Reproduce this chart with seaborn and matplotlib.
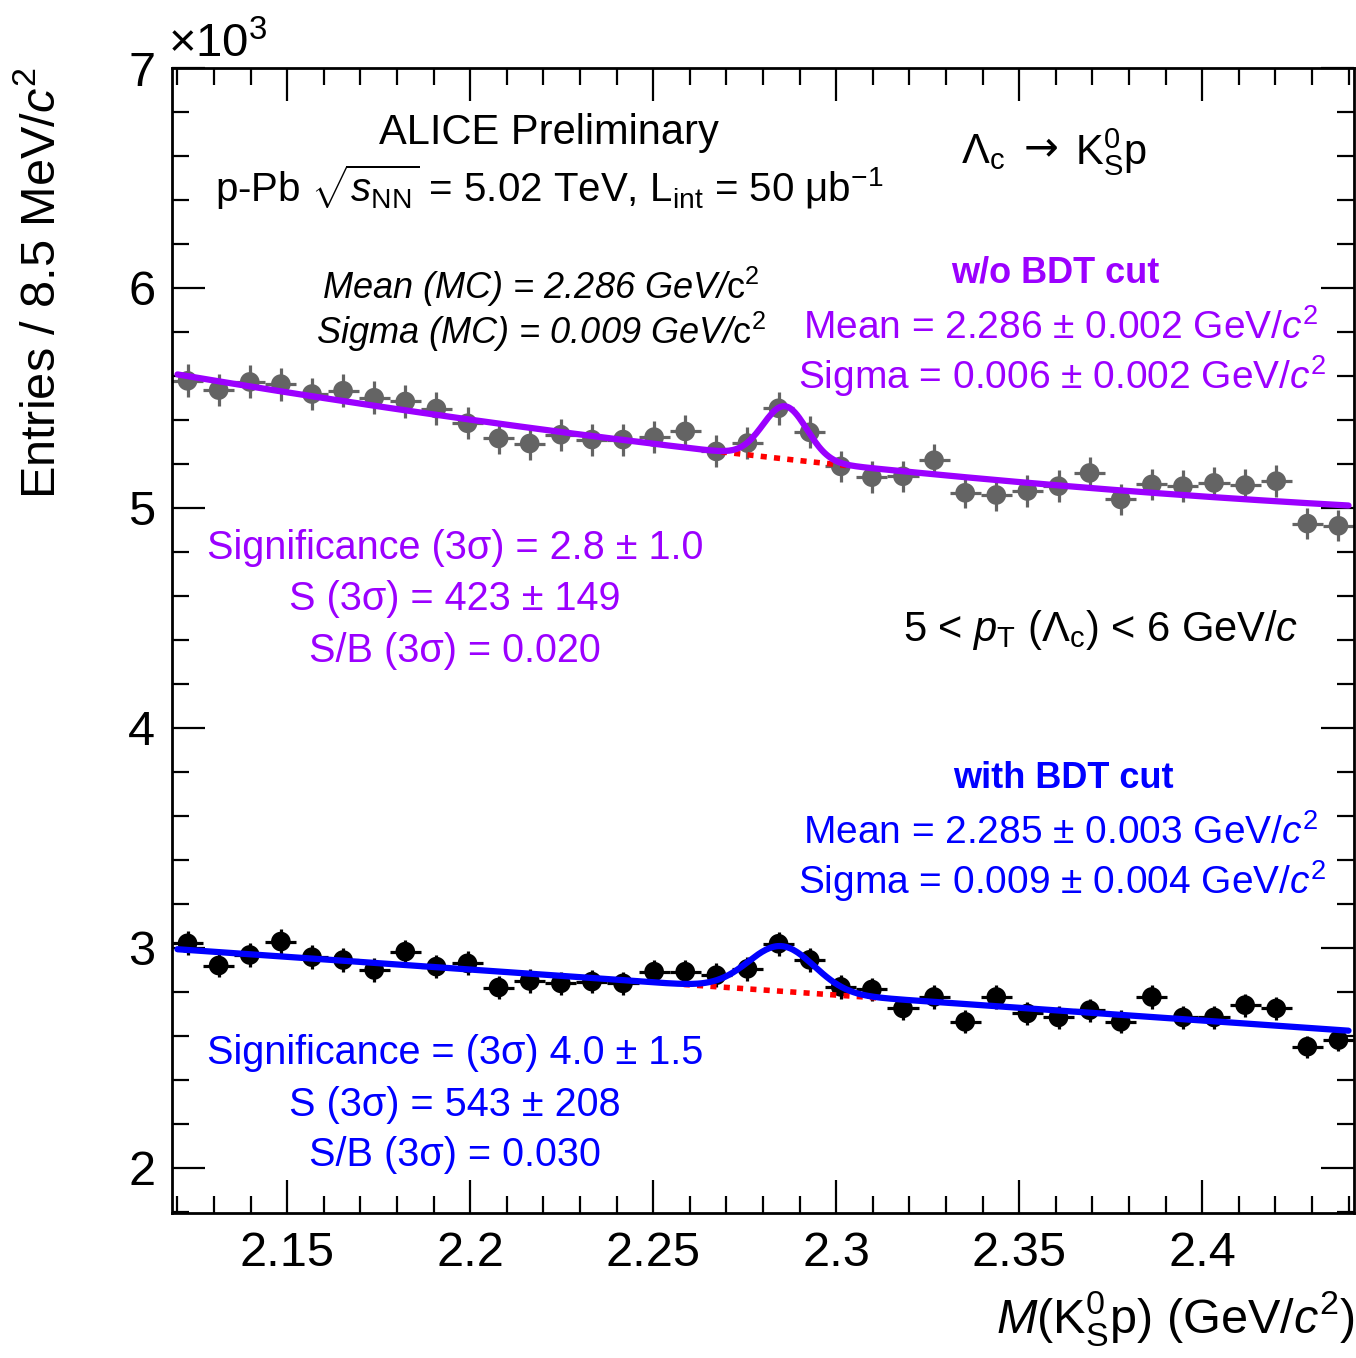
import math
import numpy as np
import pandas as pd
import matplotlib
matplotlib.use("Agg")
import matplotlib.pyplot as plt
from matplotlib.ticker import MultipleLocator, FixedLocator, FixedFormatter
import seaborn as sns

# ---- histogram binning of M(K0S p) in GeV/c^2 ----
mass_min = 2.1185
bin_width = 0.0085
n_bins = 38

# candidates per bin, without the BDT selection
counts_no_bdt = [5578, 5536, 5573, 5563, 5518, 5533, 5501, 5484, 5452, 5385,
                 5316, 5293, 5333, 5311, 5311, 5322, 5348, 5257, 5295, 5453,
                 5344, 5189, 5140, 5144, 5217, 5069, 5059, 5077, 5099, 5159,
                 5039, 5107, 5099, 5114, 5104, 5122, 4929, 4919]
# candidates per bin, with the BDT selection
counts_bdt = [3021, 2920, 2968, 3029, 2958, 2945, 2900, 2983, 2915, 2930,
              2820, 2850, 2839, 2847, 2839, 2892, 2892, 2876, 2905, 3019,
              2946, 2823, 2811, 2725, 2777, 2664, 2777, 2702, 2684, 2717,
              2664, 2777, 2684, 2684, 2740, 2725, 2551, 2581]

# fit results: polynomial background in (M - 2.12) plus a Gaussian peak
fit_range = (2.12, 2.44)
bkg_ref = 2.12
bkg_no_bdt = [5607.0, -2804.0, 2944.0]
bkg_bdt = [2994.0, -1157.0, 0.0]
mean_no_bdt, sigma_no_bdt, signal_no_bdt = 2.286, 0.006, 423.0
mean_bdt, sigma_bdt, signal_bdt = 2.285, 0.009, 543.0

x_ticks = [2.15, 2.20, 2.25, 2.30, 2.35, 2.40]
x_tick_labels = ["2.15", "2.2", "2.25", "2.3", "2.35", "2.4"]
y_ticks = [2, 3, 4, 5, 6, 7]
y_tick_labels = ["2", "3", "4", "5", "6", "7"]

PURPLE = "#9B00FF"
BLUE = "#0000FF"
RED = "#FF0000"
GREY = "#646464"

sns.set_theme(style="ticks")
plt.rcParams["font.family"] = ["Liberation Sans", "DejaVu Sans"]
plt.rcParams["text.color"] = "black"
plt.rcParams["mathtext.fontset"] = "custom"
plt.rcParams["mathtext.rm"] = "Liberation Sans"
plt.rcParams["mathtext.it"] = "Liberation Sans:italic"
plt.rcParams["mathtext.bf"] = "Liberation Sans:bold"

W, H = 1356, 1358
fig = plt.figure(figsize=(W / 100, H / 100), dpi=100)
ax = fig.add_axes([172 / W, 1 - 1213 / H, (1354 - 172) / W, (1213 - 68) / H])


def px(x, y):
    return x / W, 1 - y / H


centers = mass_min + (np.arange(n_bins) + 0.5) * bin_width
mass_max = mass_min + n_bins * bin_width


def model(x, bkg, mean, sigma, signal):
    u = x - bkg_ref
    b = bkg[0] + bkg[1] * u + bkg[2] * u ** 2
    amp = signal / math.erf(3 / math.sqrt(2)) * bin_width / (sigma * math.sqrt(2 * math.pi))
    return b + amp * np.exp(-0.5 * ((x - mean) / sigma) ** 2), b


xf = np.linspace(fit_range[0], fit_range[1], 600)

for counts, bkg, mean, sigma, signal, mcol, lcol in [
        (counts_no_bdt, bkg_no_bdt, mean_no_bdt, sigma_no_bdt, signal_no_bdt, GREY, PURPLE),
        (counts_bdt, bkg_bdt, mean_bdt, sigma_bdt, signal_bdt, "black", BLUE)]:
    y = np.array(counts, float)
    df = pd.DataFrame({"m": centers, "n": y / 1000.0})
    ax.errorbar(centers, y / 1000.0, yerr=np.sqrt(y) / 1000.0, xerr=bin_width / 2,
                fmt="none", ecolor=mcol, elinewidth=2.3, capsize=0, zorder=2)
    sns.scatterplot(data=df, x="m", y="n", ax=ax, color=mcol, s=200,
                    edgecolor="none", zorder=3, legend=False)
    total, b = model(xf, bkg, mean, sigma, signal)
    win = (xf >= mean - 3 * sigma) & (xf <= mean + 3 * sigma)
    ax.plot(xf[win], b[win] / 1000.0, color=RED, lw=4, ls=(0, (1.1, 1.3)),
            zorder=4, solid_capstyle="butt")
    sns.lineplot(x=xf, y=total / 1000.0, ax=ax, color=lcol, lw=4.5, zorder=5,
                 sort=False, estimator=None)

ax.set_xlim(mass_min, mass_max)
ax.set_ylim(1.795, 7.0)
ax.xaxis.set_major_locator(FixedLocator(x_ticks))
ax.xaxis.set_major_formatter(FixedFormatter(x_tick_labels))
ax.xaxis.set_minor_locator(MultipleLocator(0.01))
ax.yaxis.set_major_locator(FixedLocator(y_ticks))
ax.yaxis.set_major_formatter(FixedFormatter(y_tick_labels))
ax.yaxis.set_minor_locator(MultipleLocator(0.2))
ax.tick_params(which="both", direction="in", top=True, right=True,
               color="black", width=1.6, labelsize=35, labelcolor="black")
ax.tick_params(which="major", length=24)
ax.tick_params(which="minor", length=12)
ax.tick_params(axis="x", which="major", pad=13)
ax.tick_params(axis="y", which="major", pad=12)
for s in ax.spines.values():
    s.set_linewidth(2.0)
    s.set_color("black")
ax.set_xlabel("")
ax.set_ylabel("")
ax.set_facecolor("white")

# axis titles
fig.text(*px(1355, 1318), r"$M(\mathrm{K}^{0}_{\mathrm{S}}\mathrm{p})$ (GeV/$c^{2}$)",
         ha="right", va="center", fontsize=35)
fig.text(*px(42, 283), r"Entries / 8.5 MeV/$c^{2}$", rotation=90,
         ha="center", va="center", fontsize=35)
fig.text(*px(168, 45), r"$\times$10$^{3}$", ha="left", va="center", fontsize=34)

# header
fig.text(*px(549, 133), "ALICE Preliminary", ha="center", va="center", fontsize=30)
fig.text(*px(549, 187),
         r"p-Pb $\sqrt{s_{\mathrm{NN}}}$ = 5.02 TeV, L$_{\mathrm{int}}$ = 50 $\mathrm{\mu}$b$^{-1}$",
         ha="center", va="center", fontsize=29)
fig.text(*px(983, 152), r"$\Lambda_{\mathrm{c}}$", ha="center", va="center", fontsize=30)
fig.text(*px(1041, 148), "→", ha="center", va="center", fontsize=30,
         family=["DejaVu Sans"])
fig.text(*px(1111, 152), r"$\mathrm{K}^{0}_{\mathrm{S}}\mathrm{p}$", ha="center",
         va="center", fontsize=30)
fig.text(*px(541, 287), r"Mean (MC) = 2.286 GeV/$\mathrm{c}^{2}$", ha="center",
         va="center", fontsize=26, style="italic")
fig.text(*px(541, 332), r"Sigma (MC) = 0.009 GeV/$\mathrm{c}^{2}$", ha="center",
         va="center", fontsize=26, style="italic")
fig.text(*px(1101, 630), r"5 < $p_{\mathrm{T}}$ ($\Lambda_{\mathrm{c}}$) < 6 GeV/$c$",
         ha="center", va="center", fontsize=30)

# fit summaries
fig.text(*px(1055, 273), "w/o BDT cut", ha="center", va="center", fontsize=26,
         weight="bold", color=PURPLE)
fig.text(*px(1061, 328), r"Mean = 2.286 ± 0.002 GeV/$c^{2}$", ha="center",
         va="center", fontsize=28, color=PURPLE)
fig.text(*px(1062, 376), r"Sigma = 0.006 ± 0.002 GeV/$c^{2}$", ha="center",
         va="center", fontsize=28, color=PURPLE)
fig.text(*px(455, 548), "Significance (3σ) = 2.8 ± 1.0", ha="center",
         va="center", fontsize=28.5, color=PURPLE)
fig.text(*px(455, 599), "S (3σ) = 423 ± 149", ha="center",
         va="center", fontsize=28.5, color=PURPLE)
fig.text(*px(455, 651), "S/B (3σ) = 0.020", ha="center",
         va="center", fontsize=28.5, color=PURPLE)

fig.text(*px(1063, 778), "with BDT cut", ha="center", va="center", fontsize=26,
         weight="bold", color=BLUE)
fig.text(*px(1061, 833), r"Mean = 2.285 ± 0.003 GeV/$c^{2}$", ha="center",
         va="center", fontsize=28, color=BLUE)
fig.text(*px(1062, 881), r"Sigma = 0.009 ± 0.004 GeV/$c^{2}$", ha="center",
         va="center", fontsize=28, color=BLUE)
fig.text(*px(455, 1053), "Significance = (3σ) 4.0 ± 1.5", ha="center",
         va="center", fontsize=28.5, color=BLUE)
fig.text(*px(455, 1105), "S (3σ) = 543 ± 208", ha="center",
         va="center", fontsize=28.5, color=BLUE)
fig.text(*px(455, 1155), "S/B (3σ) = 0.030", ha="center",
         va="center", fontsize=28.5, color=BLUE)

fig.savefig("out.png", dpi=100, facecolor="white")
